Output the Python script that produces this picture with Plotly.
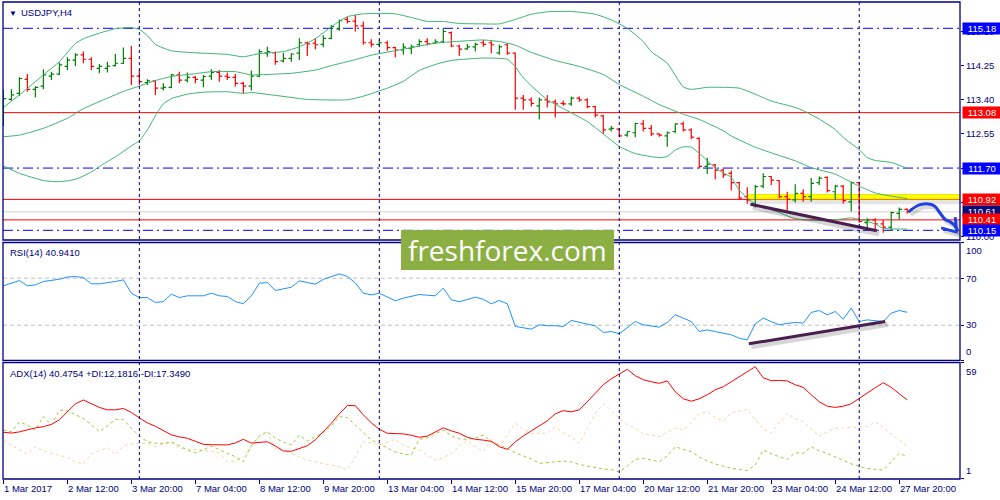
import plotly.graph_objects as go

NAVY = "#000080"
FONT = "Liberation Sans, Arial, sans-serif"

# ---------------- data ----------------
bars = list(range(114))
opens = [113.06, 113.41, 113.56, 113.91, 113.66, 113.74, 113.99, 114.04, 114.23, 114.39,
         114.52, 114.41, 114.18, 114.18, 114.25, 114.31, 114.43, 113.99, 113.83, 113.87,
         113.69, 113.71, 114.02, 113.89, 113.96, 113.89, 113.99, 114.08, 113.99, 113.96,
         113.81, 113.74, 113.99, 114.56, 114.57, 114.37, 114.43, 114.56, 114.82, 114.81,
         114.78, 114.93, 115.16, 115.40, 115.36, 115.24, 114.82, 114.78, 114.82, 114.70,
         114.64, 114.68, 114.77, 114.85, 114.81, 114.84, 115.07, 114.74, 114.67, 114.72,
         114.82, 114.82, 114.57, 114.77, 114.56, 113.44, 113.40, 113.25, 113.40, 113.35,
         113.31, 113.30, 113.44, 113.40, 113.23, 113.00, 112.67, 112.67, 112.52, 112.58,
         112.80, 112.69, 112.55, 112.50, 112.61, 112.80, 112.65, 112.44, 111.74, 111.78,
         111.65, 111.57, 111.34, 110.99, 110.82, 111.25, 111.49, 111.39, 110.99, 110.91,
         111.07, 110.99, 111.34, 111.47, 111.11, 111.25, 110.86, 111.34, 110.34, 110.41,
         110.31, 110.23, 110.57, 110.67]
highs = [113.65, 113.66, 113.96, 114.04, 113.74, 114.16, 114.10, 114.33, 114.46, 114.56,
         114.60, 114.46, 114.29, 114.35, 114.54, 114.70, 114.74, 114.14, 113.91, 113.89,
         113.81, 114.04, 114.10, 114.08, 113.99, 114.02, 114.16, 114.14, 114.08, 114.04,
         113.85, 114.13, 114.66, 114.72, 114.60, 114.57, 114.56, 114.93, 114.85, 114.93,
         115.01, 115.26, 115.40, 115.47, 115.51, 115.35, 114.91, 114.89, 114.87, 114.72,
         114.81, 114.77, 114.91, 114.93, 114.91, 115.18, 115.10, 114.77, 114.79, 114.82,
         114.89, 114.87, 114.77, 114.81, 114.57, 113.52, 113.46, 113.46, 113.52, 113.41,
         113.38, 113.48, 113.48, 113.44, 113.25, 113.02, 112.75, 112.69, 112.61, 112.83,
         112.90, 112.77, 112.57, 112.61, 112.81, 112.86, 112.69, 112.47, 111.96, 111.80,
         111.69, 111.64, 111.36, 111.22, 111.28, 111.57, 111.50, 111.40, 111.11, 111.30,
         111.17, 111.45, 111.49, 111.49, 111.28, 111.28, 111.36, 111.36, 110.45, 110.45,
         110.41, 110.62, 110.72, 110.70]
lows = [112.75, 113.38, 113.50, 113.60, 113.46, 113.66, 113.89, 114.02, 114.14, 114.24,
        114.31, 114.14, 114.06, 114.08, 114.23, 114.29, 113.77, 113.77, 113.77, 113.52,
        113.63, 113.69, 113.81, 113.83, 113.81, 113.71, 113.89, 113.85, 113.89, 113.73,
        113.56, 113.63, 113.96, 114.47, 114.27, 114.33, 114.35, 114.39, 114.49, 114.66,
        114.71, 114.91, 115.12, 115.30, 115.10, 114.77, 114.71, 114.72, 114.62, 114.46,
        114.52, 114.54, 114.72, 114.75, 114.79, 114.81, 114.71, 114.49, 114.64, 114.60,
        114.72, 114.56, 114.52, 114.52, 113.15, 113.15, 113.23, 112.91, 113.21, 112.96,
        113.25, 113.25, 113.35, 113.19, 112.96, 112.55, 112.61, 112.47, 112.48, 112.47,
        112.61, 112.50, 112.48, 112.23, 112.57, 112.61, 112.42, 111.69, 111.55, 111.42,
        111.45, 111.14, 110.92, 110.81, 110.72, 111.20, 111.28, 110.95, 110.64, 110.84,
        110.86, 110.86, 111.28, 111.09, 110.92, 110.82, 110.62, 110.34, 110.16, 110.14,
        110.09, 110.14, 110.42, 110.56]
closes = [113.43, 113.52, 113.93, 113.66, 113.71, 114.02, 114.04, 114.27, 114.39, 114.52,
          114.41, 114.23, 114.23, 114.24, 114.31, 114.43, 113.99, 113.85, 113.87, 113.69,
          113.71, 114.02, 113.89, 113.96, 113.91, 113.98, 114.08, 113.99, 113.96, 113.81,
          113.74, 113.99, 114.60, 114.60, 114.35, 114.43, 114.54, 114.82, 114.79, 114.77,
          114.93, 115.22, 115.37, 115.35, 115.24, 114.82, 114.78, 114.82, 114.70, 114.64,
          114.71, 114.72, 114.85, 114.79, 114.84, 115.10, 114.74, 114.66, 114.72, 114.78,
          114.78, 114.77, 114.72, 114.56, 113.44, 113.40, 113.31, 113.40, 113.35, 113.30,
          113.30, 113.44, 113.40, 113.23, 113.02, 112.65, 112.69, 112.50, 112.61, 112.81,
          112.69, 112.55, 112.52, 112.58, 112.80, 112.65, 112.47, 111.74, 111.80, 111.65,
          111.53, 111.34, 110.95, 110.91, 111.24, 111.49, 111.40, 110.99, 110.92, 111.07,
          110.99, 111.32, 111.45, 111.14, 111.25, 110.89, 111.34, 110.37, 110.41, 110.31,
          110.23, 110.59, 110.67, 110.61]

bb_up_x = [0, 2, 5, 7, 9, 10, 12, 14, 16, 17, 18, 19, 21, 24, 28, 30, 32, 35, 37, 39,
           41, 43, 45, 47, 49, 51, 53, 55, 57, 60, 62, 64, 66, 68, 71, 74, 76, 78, 80, 81,
           83, 85, 86, 88, 90, 92, 94, 96, 99, 100, 102, 104, 105, 107, 108, 109, 111, 113]
bb_up = [113.21, 113.52, 114.02, 114.35, 114.80, 114.92, 115.06, 115.17, 115.20, 115.15,
         115.00, 114.78, 114.62, 114.57, 114.53, 114.47, 114.55, 114.60, 114.72, 114.92,
         115.22, 115.47, 115.54, 115.55, 115.54, 115.45, 115.35, 115.35, 115.30, 115.29,
         115.29, 115.40, 115.53, 115.59, 115.60, 115.53, 115.39, 115.18, 114.85, 114.60,
         114.31, 113.72, 113.66, 113.71, 113.71, 113.69, 113.54, 113.37, 113.21, 113.13,
         112.92, 112.66, 112.46, 112.16, 111.96, 111.89, 111.84, 111.69]
bb_mid_x = [0, 2, 5, 8, 10, 13, 15, 17, 19, 21, 24, 26, 29, 31, 34, 36, 39, 41, 44, 46,
            50, 54, 58, 60, 62, 64, 66, 69, 72, 75, 77, 80, 82, 85, 87, 90, 91, 94, 96, 99,
            101, 104, 105, 107, 109, 111, 113]
bb_mid = [112.48, 112.52, 112.69, 112.94, 113.18, 113.44, 113.61, 113.74, 113.88, 113.98,
          114.05, 114.10, 114.10, 114.02, 114.04, 114.06, 114.14, 114.25, 114.40, 114.51,
          114.66, 114.81, 114.87, 114.89, 114.85, 114.76, 114.58, 114.38, 114.23, 114.03,
          113.78, 113.49, 113.28, 113.04, 112.91, 112.63, 112.50, 112.22, 112.08, 111.88,
          111.71, 111.55, 111.45, 111.25, 111.08, 111.00, 110.94]
bb_low_x = [0, 2, 5, 7, 9, 11, 12, 14, 16, 17, 18, 19, 20, 21, 23, 25, 28, 30, 31, 34,
            38, 43, 45, 48, 50, 52, 54, 56, 59, 60, 63, 64, 65, 66, 68, 70, 73, 75, 77, 79,
            82, 83, 84, 85, 86, 87, 89, 90, 91, 92, 94, 96, 99, 102, 104, 106, 107, 109, 110, 113]
bb_low = [111.75, 111.57, 111.39, 111.36, 111.42, 111.60, 111.74, 111.98, 112.25, 112.38,
          112.65, 113.00, 113.30, 113.43, 113.54, 113.59, 113.60, 113.56, 113.58, 113.51,
          113.41, 113.40, 113.49, 113.69, 113.86, 114.13, 114.28, 114.38, 114.43, 114.44,
          114.41, 114.22, 113.95, 113.75, 113.40, 113.18, 112.86, 112.55, 112.24, 112.06,
          111.96, 111.99, 112.15, 112.23, 112.22, 112.07, 111.70, 111.58, 111.47, 111.15,
          110.80, 110.67, 110.44, 110.39, 110.41, 110.46, 110.42, 110.31, 110.20, 110.18]

rsi = [63.5, 66.0, 68.0, 63.5, 64.3, 67.2, 68.0, 69.1, 71.0, 71.4,
       70.5, 65.2, 65.2, 66.0, 67.2, 68.6, 57.2, 53.5, 53.5, 49.3,
       50.1, 56.4, 53.5, 55.0, 55.0, 55.0, 57.2, 55.0, 54.4, 50.1,
       48.2, 55.0, 65.7, 66.3, 59.5, 61.0, 62.3, 67.7, 66.0, 64.9,
       69.0, 71.5, 73.7, 71.5, 66.0, 57.2, 55.8, 57.2, 54.0, 50.7,
       53.0, 54.5, 56.1, 55.5, 55.0, 61.5, 51.6, 49.9, 52.0, 53.8,
       52.1, 48.2, 51.0, 48.2, 28.9, 27.5, 26.6, 30.3, 29.5, 29.5,
       28.9, 34.0, 32.3, 30.5, 29.4, 23.8, 24.6, 22.6, 28.0, 33.1,
       30.3, 29.0, 28.3, 32.3, 38.8, 36.0, 33.1, 24.6, 26.0, 24.5,
       23.2, 21.8, 18.9, 17.5, 31.1, 36.0, 33.0, 30.3, 31.5, 32.3,
       31.7, 40.8, 42.5, 38.8, 41.6, 35.1, 44.5, 33.1, 34.5, 34.0,
       33.1, 40.2, 42.5, 40.9]
adx = [24.3, 23.9, 24.5, 25.5, 26.5, 27.1, 28.2, 30.5, 34.5, 38.5,
       40.4, 38.5, 36.7, 35.5, 35.5, 36.2, 34.2, 31.5, 29.0, 27.3,
       25.3, 23.0, 22.0, 21.3, 19.8, 18.3, 18.1, 18.0, 18.0, 19.0,
       20.8, 18.9, 19.3, 19.6, 17.5, 15.0, 14.8, 16.3, 17.6, 20.5,
       24.5, 28.8, 33.5, 37.6, 37.6, 33.0, 29.0, 25.8, 23.8, 23.8,
       23.5, 22.8, 21.8, 22.4, 24.5, 26.5, 25.0, 23.8, 21.8, 20.8,
       20.4, 19.8, 17.1, 15.8, 19.5, 22.5, 25.0, 27.4, 30.0, 33.5,
       35.1, 34.5, 35.5, 39.5, 44.0, 48.0, 51.0, 53.5, 55.7, 52.5,
       50.5, 49.5, 48.7, 49.9, 44.5, 41.0, 39.8, 41.0, 43.0, 45.5,
       47.0, 49.5, 52.0, 54.5, 57.0, 51.5, 50.0, 50.2, 49.9, 48.0,
       46.7, 43.0, 39.5, 37.3, 36.7, 37.3, 38.5, 41.2, 44.0, 46.5,
       49.0, 46.7, 43.5, 40.5]
plus_di = [25.4, 24.5, 29.5, 27.9, 25.4, 32.1, 27.9, 35.4, 35.0, 33.0,
           31.2, 28.0, 24.6, 27.5, 30.7, 30.7, 26.3, 22.5, 19.5, 18.8,
           18.8, 19.6, 17.5, 15.5, 14.0, 15.5, 17.5, 15.5, 13.8, 12.1,
           9.6, 17.5, 22.5, 24.6, 21.3, 19.5, 18.0, 22.9, 20.0, 22.1,
           24.0, 27.5, 32.1, 31.7, 27.9, 24.0, 20.4, 18.5, 16.5, 14.5,
           13.5, 13.0, 20.8, 21.5, 23.5, 25.4, 22.5, 21.0, 20.8, 21.5,
           22.9, 19.6, 18.0, 16.3, 14.0, 12.5, 11.0, 8.8, 9.3, 9.8,
           10.0, 9.5, 8.2, 7.5, 6.8, 6.0, 5.7, 4.5, 7.5, 10.8,
           11.3, 10.5, 9.6, 12.5, 17.1, 15.8, 14.6, 12.0, 10.0, 8.5,
           7.5, 6.3, 5.8, 5.2, 8.0, 15.5, 13.5, 12.0, 10.8, 14.1,
           13.8, 17.1, 15.0, 13.8, 12.0, 10.0, 8.5, 7.3, 6.3, 5.8,
           5.5, 9.6, 13.8, 12.2]
minus_di = [20.1, 18.0, 16.0, 13.5, 17.1, 15.0, 13.8, 12.8, 11.8, 9.5,
            8.5, 13.5, 15.0, 16.8, 13.0, 17.5, 18.5, 18.8, 18.8, 17.1,
            18.5, 19.0, 16.3, 16.0, 15.8, 15.5, 14.8, 14.1, 9.6, 10.0,
            12.0, 16.8, 22.0, 24.6, 16.3, 15.0, 13.8, 12.0, 10.5, 9.5,
            8.8, 8.0, 7.1, 5.5, 12.1, 19.6, 19.0, 18.0, 19.5, 20.8,
            18.0, 16.5, 15.5, 13.0, 10.5, 11.5, 13.8, 17.5, 20.4, 17.0,
            14.6, 20.8, 17.1, 23.0, 28.8, 26.0, 23.8, 23.8, 23.8, 27.1,
            24.0, 22.1, 18.8, 26.0, 33.7, 38.4, 35.4, 31.0, 28.0, 26.3,
            23.5, 22.9, 22.1, 24.5, 26.3, 25.4, 29.0, 33.7, 34.6, 31.5,
            30.0, 34.1, 35.0, 35.7, 30.4, 26.0, 24.1, 29.0, 33.7, 31.0,
            29.6, 26.0, 22.4, 24.5, 26.3, 26.5, 26.8, 27.0, 27.1, 29.6,
            26.5, 23.8, 20.5, 17.4]

x_tick_bars = [0, 8, 16, 24, 32, 40, 48, 56, 64, 72, 80, 88, 96, 104, 112]
x_tick_labels = ["1 Mar 2017", "2 Mar 12:00", "3 Mar 20:00", "7 Mar 04:00", "8 Mar 12:00",
                 "9 Mar 20:00", "13 Mar 04:00", "14 Mar 12:00", "15 Mar 20:00", "17 Mar 04:00",
                 "20 Mar 12:00", "21 Mar 20:00", "23 Mar 04:00", "24 Mar 12:00", "27 Mar 20:00"]
grid_bars = [17, 47, 77, 107]
price_ticks = [115.10, 114.25, 113.40, 112.55, 111.70, 110.85, 110.00]
price_tick_text = ["115.10", "114.25", "113.40", "112.55", "", "", "110.00"]

blue_levels = [115.18, 111.70, 110.15]
red_levels = [113.08, 110.92, 110.41]
bid_level = 110.61
label_levels = [115.18, 113.08, 111.70, 110.92, 110.61, 110.41, 110.15]
label_colors = ["#0000FF", "#FF0000", "#0000FF", "#FF0000", "#0A0A78", "#FF0000", "#0000FF"]

yellow_zone_start = 93.1
yellow_zone = [110.93, 111.04]

trend_px = [93.4, 109.2]
trend_py = [110.80, 110.14]
trend_rx = [93.2, 110.25]
trend_ry = [14.1, 33.1]
arrow_x = [113.16, 114.21, 114.84, 115.88, 116.5, 117.13, 117.75, 118.38, 118.88, 119.29]
arrow_y = [110.61, 110.755, 110.80, 110.80, 110.74, 110.57, 110.42, 110.36, 110.28, 110.14]
head1_x = [117.25, 119.29]
head1_y = [110.21, 110.10]
head2_x = [119.0, 119.19]
head2_y = [110.48, 110.11]

# ---------------- geometry ----------------
MAIN_DOM = [0.50105, 1.0]
RSI_DOM = [0.24843, 0.49581]
ADX_DOM = [0.0, 0.24382]
XR = [-0.05, 119.6]

fig = go.Figure()

# Bollinger bands
for bx, by in [(bb_up_x, bb_up), (bb_mid_x, bb_mid), (bb_low_x, bb_low)]:
    fig.add_trace(go.Scatter(x=bx, y=by, mode="lines", xaxis="x", yaxis="y",
                             line=dict(color="#3CB371", width=1, shape="spline", smoothing=0.5),
                             hoverinfo="skip", showlegend=False))

fig.add_trace(go.Ohlc(x=bars, open=opens, high=highs, low=lows, close=closes,
                      xaxis="x", yaxis="y", tickwidth=0.35,
                      increasing=dict(line=dict(color="#008000", width=1.2)),
                      decreasing=dict(line=dict(color="#FF0000", width=1.2)),
                      showlegend=False, hoverinfo="skip"))

# price trendline + shadow
fig.add_trace(go.Scatter(x=[v + 0.3 for v in trend_px], y=[v - 0.08 for v in trend_py],
                         mode="lines", line=dict(color="rgba(0,0,0,0.16)", width=5),
                         xaxis="x", yaxis="y", showlegend=False, hoverinfo="skip"))
fig.add_trace(go.Scatter(x=trend_px, y=trend_py, mode="lines",
                         line=dict(color="#4A1F4F", width=3),
                         xaxis="x", yaxis="y", showlegend=False, hoverinfo="skip"))

# blue hand drawn arrow + shadow
for ax_, ay_ in [(arrow_x, arrow_y), (head1_x, head1_y), (head2_x, head2_y)]:
    fig.add_trace(go.Scatter(x=[v + 0.3 for v in ax_], y=[v - 0.08 for v in ay_], mode="lines",
                             line=dict(color="rgba(0,0,0,0.15)", width=4, shape="spline"),
                             xaxis="x", yaxis="y", showlegend=False, hoverinfo="skip"))
for ax_, ay_ in [(arrow_x, arrow_y), (head1_x, head1_y), (head2_x, head2_y)]:
    fig.add_trace(go.Scatter(x=ax_, y=ay_, mode="lines",
                             line=dict(color="#2040E0", width=3, shape="spline"),
                             xaxis="x", yaxis="y", showlegend=False, hoverinfo="skip"))

# RSI
fig.add_trace(go.Scatter(x=bars, y=rsi, mode="lines", line=dict(color="#1E90FF", width=1),
                         xaxis="x2", yaxis="y2", showlegend=False, hoverinfo="skip"))
fig.add_trace(go.Scatter(x=[v + 0.3 for v in trend_rx], y=[v - 2.5 for v in trend_ry],
                         mode="lines", line=dict(color="rgba(0,0,0,0.16)", width=5),
                         xaxis="x2", yaxis="y2", showlegend=False, hoverinfo="skip"))
fig.add_trace(go.Scatter(x=trend_rx, y=trend_ry, mode="lines",
                         line=dict(color="#4A1F4F", width=3),
                         xaxis="x2", yaxis="y2", showlegend=False, hoverinfo="skip"))

# ADX
fig.add_trace(go.Scatter(x=bars, y=minus_di, mode="lines",
                         line=dict(color="#F5D3A3", width=1, dash="dot"),
                         xaxis="x3", yaxis="y3", showlegend=False, hoverinfo="skip"))
fig.add_trace(go.Scatter(x=bars, y=plus_di, mode="lines",
                         line=dict(color="#9ACD32", width=1, dash="dot"),
                         xaxis="x3", yaxis="y3", showlegend=False, hoverinfo="skip"))
fig.add_trace(go.Scatter(x=bars, y=adx, mode="lines", line=dict(color="#FF0000", width=1),
                         xaxis="x3", yaxis="y3", showlegend=False, hoverinfo="skip"))

shapes = []
# yellow zone with shadow
shapes.append(dict(type="rect", xref="x", yref="y", x0=yellow_zone_start, x1=XR[1],
                   y0=yellow_zone[0] - 0.13, y1=yellow_zone[0] - 0.01,
                   fillcolor="rgba(0,0,0,0.10)", line=dict(width=0), layer="below"))
shapes.append(dict(type="rect", xref="x", yref="y", x0=yellow_zone_start, x1=XR[1],
                   y0=yellow_zone[0], y1=yellow_zone[1],
                   fillcolor="#FFFF00", line=dict(color="#E8E800", width=1), layer="below"))
# horizontal levels
for lv in blue_levels:
    shapes.append(dict(type="line", xref="paper", yref="y", x0=0, x1=1, y0=lv, y1=lv,
                       line=dict(color="#0000FF", width=1, dash="10px,4px,2px,4px"), layer="below"))
for lv in red_levels:
    shapes.append(dict(type="line", xref="paper", yref="y", x0=0, x1=1, y0=lv, y1=lv,
                       line=dict(color="#FF0000", width=1), layer="below"))
shapes.append(dict(type="line", xref="paper", yref="y", x0=0, x1=1, y0=bid_level, y1=bid_level,
                   line=dict(color="#D0D0D0", width=1), layer="below"))
# RSI levels
for lv in [70, 30]:
    shapes.append(dict(type="line", xref="paper", yref="y2", x0=0, x1=1, y0=lv, y1=lv,
                       line=dict(color="#C0C0C0", width=1, dash="4px,3px"), layer="below"))
# vertical grid
for gb in grid_bars:
    shapes.append(dict(type="line", xref="x", yref="paper", x0=gb, x1=gb, y0=0, y1=1,
                       line=dict(color=NAVY, width=1, dash="3px,3px"), layer="above"))
# panel frames
for dom in [MAIN_DOM, RSI_DOM, ADX_DOM]:
    shapes.append(dict(type="rect", xref="paper", yref="paper", x0=0, x1=1, y0=dom[0], y1=dom[1],
                       line=dict(color=NAVY, width=1.3), fillcolor="rgba(0,0,0,0)", layer="above"))
# watermark
shapes.append(dict(type="rect", xref="paper", yref="paper", x0=0.4159, x1=0.6385,
                   y0=0.4382, y1=0.522, fillcolor="#8CAF44", line=dict(width=0), layer="above"))

ann = []
tf = dict(family=FONT, size=9.5, color=NAVY)
ann.append(dict(xref="paper", yref="paper", x=0, y=1, xanchor="left", yanchor="top",
                xshift=4, yshift=-5, text="▼", showarrow=False,
                font=dict(family=FONT, size=8, color=NAVY)))
ann.append(dict(xref="paper", yref="paper", x=0, y=1, xanchor="left", yanchor="top",
                xshift=16, yshift=-3, text="USDJPY,H4", showarrow=False, font=tf))
ann.append(dict(xref="paper", yref="paper", x=0, y=RSI_DOM[1], xanchor="left", yanchor="top",
                xshift=5, yshift=-3, text="RSI(14) 40.9410", showarrow=False, font=tf))
ann.append(dict(xref="paper", yref="paper", x=0, y=ADX_DOM[1], xanchor="left", yanchor="top",
                xshift=5, yshift=-3, text="ADX(14) 40.4754 +DI:12.1816 -DI:17.3490",
                showarrow=False, font=tf))
for b, t in zip(x_tick_bars, x_tick_labels):
    ann.append(dict(xref="x3", yref="paper", x=b, y=0, xanchor="left", yanchor="top",
                    xshift=-1, yshift=-2, text=t, showarrow=False, font=tf))
# RSI / ADX edge labels
ann.append(dict(xref="paper", yref="paper", x=1, y=RSI_DOM[1], xanchor="left", yanchor="top",
                xshift=4, yshift=-1, text="100", showarrow=False, font=tf))
ann.append(dict(xref="paper", yref="paper", x=1, y=RSI_DOM[0], xanchor="left", yanchor="bottom",
                xshift=4, yshift=1, text="0", showarrow=False, font=tf))
ann.append(dict(xref="paper", yref="paper", x=1, y=ADX_DOM[1], xanchor="left", yanchor="top",
                xshift=4, yshift=-1, text="59", showarrow=False, font=tf))
ann.append(dict(xref="paper", yref="paper", x=1, y=ADX_DOM[0], xanchor="left", yanchor="bottom",
                xshift=4, yshift=1, text="1", showarrow=False, font=tf))
# coloured price labels
for lv, col in zip(label_levels, label_colors):
    ann.append(dict(xref="paper", yref="y", x=1, y=lv, xanchor="left", yanchor="middle",
                    xshift=2, text=f"{lv:.2f}", showarrow=False, bgcolor=col,
                    width=38, height=11, align="center", borderpad=0,
                    font=dict(family=FONT, size=9.5, color="white")))
# watermark text
ann.append(dict(xref="paper", yref="paper", x=0.5272, y=0.4801, xanchor="center", yanchor="middle",
                text="freshforex.com", showarrow=False,
                font=dict(family="Open Sans, sans-serif", size=28, color="white")))

axis_common = dict(showgrid=False, zeroline=False, fixedrange=True)
fig.update_layout(
    width=1000, height=500,
    margin=dict(l=3, r=40, t=2, b=21),
    paper_bgcolor="white", plot_bgcolor="white",
    hovermode=False, showlegend=False,
    xaxis=dict(domain=[0, 1], range=XR, anchor="y", showticklabels=False, ticks="",
               rangeslider=dict(visible=False), **axis_common),
    xaxis2=dict(domain=[0, 1], range=XR, anchor="y2", matches="x", showticklabels=False,
                ticks="", **axis_common),
    xaxis3=dict(domain=[0, 1], range=XR, anchor="y3", matches="x", showticklabels=False,
                tickmode="array", tickvals=x_tick_bars, ticks="outside", ticklen=4,
                tickcolor=NAVY, **axis_common),
    yaxis=dict(domain=MAIN_DOM, range=[109.909, 115.835], side="right", anchor="x",
               tickmode="array", tickvals=price_ticks, ticktext=price_tick_text,
               ticks="outside", ticklen=3, tickcolor=NAVY, tickfont=tf, **axis_common),
    yaxis2=dict(domain=RSI_DOM, range=[-0.1, 100.4], side="right", anchor="x2",
                tickmode="array", tickvals=[100, 70, 30, 0], ticktext=["", "70", "30", ""],
                ticks="outside", ticklen=3, tickcolor=NAVY, tickfont=tf, **axis_common),
    yaxis3=dict(domain=ADX_DOM, range=[1, 59], side="right", anchor="x3",
                tickmode="array", tickvals=[59, 1], ticktext=["", ""],
                ticks="outside", ticklen=3, tickcolor=NAVY, tickfont=tf, **axis_common),
    shapes=shapes, annotations=ann,
)

fig.write_html("out.html", config={"displayModeBar": False},
               post_script="document.body.style.margin='0';")
